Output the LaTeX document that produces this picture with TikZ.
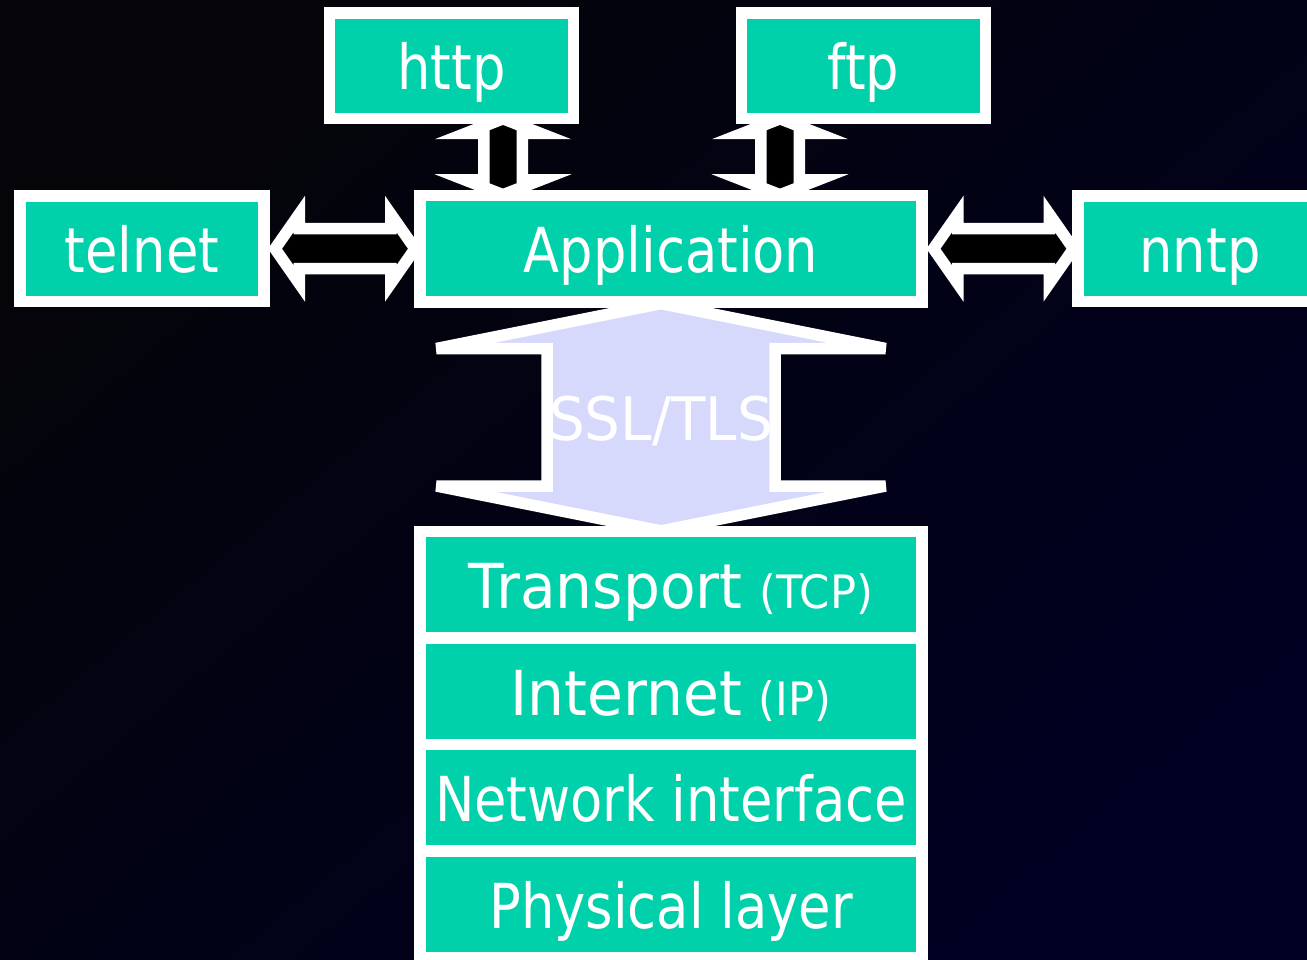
\documentclass[tikz,border=0pt]{standalone}
\usepackage{fontspec}
\usepackage{tikz}
\usetikzlibrary{positioning,calc}
\setmainfont{DejaVu Sans}[FakeStretch=0.85]
\newfontfamily\widesans{DejaVu Sans}[FakeStretch=0.94]
\definecolor{boxteal}{RGB}{0,209,170}
\definecolor{ssllav}{RGB}{214,216,252}
\definecolor{bgtop}{RGB}{4,4,9}
\definecolor{bgbot}{RGB}{0,0,34}
\pgfdeclarelayer{bg}
\pgfdeclarelayer{arrows}
\pgfsetlayers{bg,arrows,main}
\tikzset{
  layer/.style={draw=white,fill=boxteal,line width=11.5pt,minimum width=502pt,minimum height=106.5pt,
    outer sep=0pt,inner sep=0pt,text=white,font=\fontsize{62}{62}\selectfont,text height=48pt,text depth=0pt},
  proto/.style={layer,minimum width=244pt,minimum height=105.5pt},
  biarrow/.style={draw=white,fill=black,line width=11.5pt,line join=miter},
  sslarrow/.style={draw=white,fill=ssllav,line width=11.5pt,line join=miter}
}
\newcommand{\smallpar}[1]{{\widesans\fontsize{46}{46}\selectfont #1}}

\begin{document}
\begin{tikzpicture}[x=1pt,y=-1pt]
  \clip (0,0) rectangle (1307,960);
  \begin{pgfonlayer}{bg}
    \shade[top color=bgtop,bottom color=bgbot,shading angle=40] (0,0) rectangle (1307,960);
  \end{pgfonlayer}

  \node (app) at (671,248.75) [layer] {Application};
  \node (telnet) at (142,248.75) [proto] {telnet};
  \node (nntp) at (1200,248.75) [proto] {nntp};
  \node (http) at (451.5,66) [proto] {http};
  \node (ftp) at (863.5,66) [proto] {ftp};

  \node (transport) at (671,584.75) [layer] {{\widesans Transport} \smallpar{(TCP)}};
  \node (internet) [layer,below=0pt of transport] {{\widesans Internet} \smallpar{(IP)}};
  \node (netif) [layer,below=0pt of internet] {Network interface};
  \node (phys) [layer,below=0pt of netif] {Physical layer};

  \begin{pgfonlayer}{arrows}
    \filldraw[biarrow] ([xshift=11pt]telnet.east) -- ++(24.25,-34.7) -- ++(0,14.7) -- ++(91.5,0) -- ++(0,-14.7)
      -- ++(24.25,34.7) -- ++(-24.25,34.7) -- ++(0,-14.7) -- ++(-91.5,0) -- ++(0,14.7) -- cycle;
    \filldraw[biarrow] ([xshift=11.5pt]app.east) -- ++(24.25,-34.7) -- ++(0,14.7) -- ++(91.5,0) -- ++(0,-14.7)
      -- ++(24.25,34.7) -- ++(-24.25,34.7) -- ++(0,-14.7) -- ++(-91.5,0) -- ++(0,14.7) -- cycle;
    \filldraw[biarrow] ([xshift=51.5pt]http.south) -- ++(-37.8,14.75) -- ++(18.55,0) -- ++(0,46.5) -- ++(-18.55,0)
      -- ++(37.8,14.75) -- ++(37.8,-14.75) -- ++(-18.55,0) -- ++(0,-46.5) -- ++(18.55,0) -- cycle;
    \filldraw[biarrow] ([xshift=-83.5pt]ftp.south) -- ++(-37.8,14.75) -- ++(18.55,0) -- ++(0,46.5) -- ++(-18.55,0)
      -- ++(37.8,14.75) -- ++(37.8,-14.75) -- ++(-18.55,0) -- ++(0,-46.5) -- ++(18.55,0) -- cycle;
    \filldraw[sslarrow] ([xshift=-10pt,yshift=-1.6pt]app.south) -- ++(-224.5,44.9) -- ++(110.5,0) -- ++(0,137.5)
      -- ++(-110.5,0) -- ++(224.5,44.9) -- ++(224.5,-44.9) -- ++(-110.5,0) -- ++(0,-137.5) -- ++(110.5,0) -- cycle;
  \end{pgfonlayer}
  \node (ssl) at ($(app.south)!.5!(transport.north)+(-10,0)$) [text=white,font=\widesans\fontsize{60}{60}\selectfont,
    text height=48pt,text depth=0pt,inner sep=0pt] {SSL/TLS};
\end{tikzpicture}
\end{document}
